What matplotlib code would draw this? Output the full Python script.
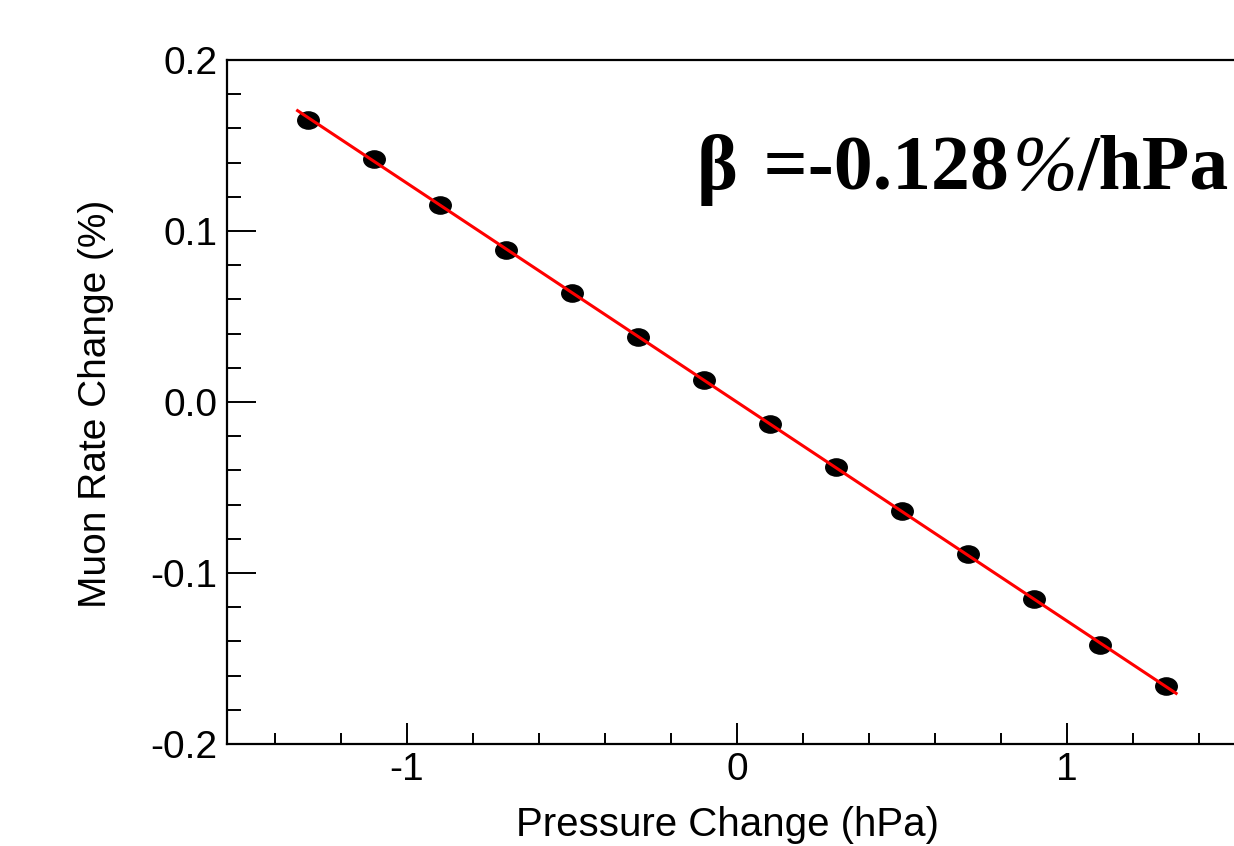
import matplotlib
matplotlib.use("Agg")
import matplotlib.pyplot as plt
import numpy as np
from matplotlib.path import Path
from matplotlib.transforms import Affine2D
from matplotlib.ticker import FixedLocator, FixedFormatter

plt.rcParams['font.family'] = ['Liberation Sans', 'DejaVu Sans']
plt.rcParams['axes.unicode_minus'] = False

# Pressure bins (hPa) and mean muon rate change (%)
pressure = [-1.3, -1.1, -0.9, -0.7, -0.5, -0.3, -0.1, 0.1, 0.3, 0.5, 0.7, 0.9, 1.1, 1.3]
rate_change = [0.165, 0.142, 0.115, 0.089, 0.064, 0.038, 0.0128,
               -0.013, -0.038, -0.064, -0.089, -0.115, -0.142, -0.166]

beta = -0.128          # fitted barometric coefficient, %/hPa
fit_range = [-1.335, 1.335]

x_major = [-1, 0, 1]
x_major_labels = ["-1", "0", "1"]
y_major = [-0.2, -0.1, 0.0, 0.1, 0.2]
y_major_labels = ["-0.2", "-0.1", "0.0", "0.1", "0.2"]

W, H = 1234, 846
fig = plt.figure(figsize=(W / 100, H / 100), dpi=100)
xlim = (-1.545, 1.55)
ax = fig.add_axes([227 / W, 102 / H, (xlim[1] - xlim[0]) * 330 / W, 684 / H])
ax.set_xlim(*xlim)
ax.set_ylim(-0.2, 0.2)

# elliptical marker
ellipse = Path.unit_circle().transformed(Affine2D().scale(1.25, 1.0))
ax.plot(pressure, rate_change, linestyle='none', marker=ellipse, markersize=15.5,
        color='black', zorder=3)

fx = np.array(fit_range)
ax.plot(fx, beta * fx, color='#ff0000', lw=2.2, zorder=4, solid_capstyle='butt')

for s in ax.spines.values():
    s.set_linewidth(1.6)
    s.set_color('black')

ax.xaxis.set_major_locator(FixedLocator(x_major))
ax.xaxis.set_major_formatter(FixedFormatter(x_major_labels))
ax.xaxis.set_minor_locator(FixedLocator([v / 10 for v in range(-14, 15, 2) if v % 10 != 0]))
ax.yaxis.set_major_locator(FixedLocator(y_major))
ax.yaxis.set_major_formatter(FixedFormatter(y_major_labels))
ax.yaxis.set_minor_locator(FixedLocator([v / 100 for v in range(-18, 19, 2) if v % 10 != 0]))

ax.tick_params(axis='x', which='major', direction='in', length=15, width=1.4,
               labelsize=28, pad=6, top=False)
ax.tick_params(axis='x', which='minor', direction='in', length=8, width=1.4, top=False)
ax.tick_params(axis='y', which='major', direction='in', length=21, width=1.4,
               labelsize=28, pad=7, right=False)
ax.tick_params(axis='y', which='minor', direction='in', length=10, width=1.4, right=False)

fig.text(728 / W, 1 - 836 / H, "Pressure Change (hPa)", fontsize=29,
         ha='center', va='baseline')
fig.text(96 / W, 1 - 404 / H, "Muon Rate Change (%)", fontsize=28,
         rotation=90, ha='center', va='center')

# fit result annotation
serif = dict(family='Liberation Serif', weight='bold', fontsize=56)
t1 = fig.text(697 / W, 1 - 206 / H, "β", va='bottom', ha='left', **serif)
t2 = ax.annotate(" =-0.128", xy=(1, 0), xycoords=t1, xytext=(6, 0),
                 textcoords='offset pixels', va='bottom', ha='left', **serif)
t3 = ax.annotate("%", xy=(1, 0), xycoords=t2, xytext=(4, 0),
                 textcoords='offset pixels', va='bottom', ha='left',
                 family='Liberation Serif', style='italic', weight='normal', fontsize=56)
t4 = ax.annotate("/hPa", xy=(1, 0), xycoords=t3, xytext=(0, 0),
                 textcoords='offset pixels', va='bottom', ha='left', **serif)

fig.savefig("out.png", dpi=100)
